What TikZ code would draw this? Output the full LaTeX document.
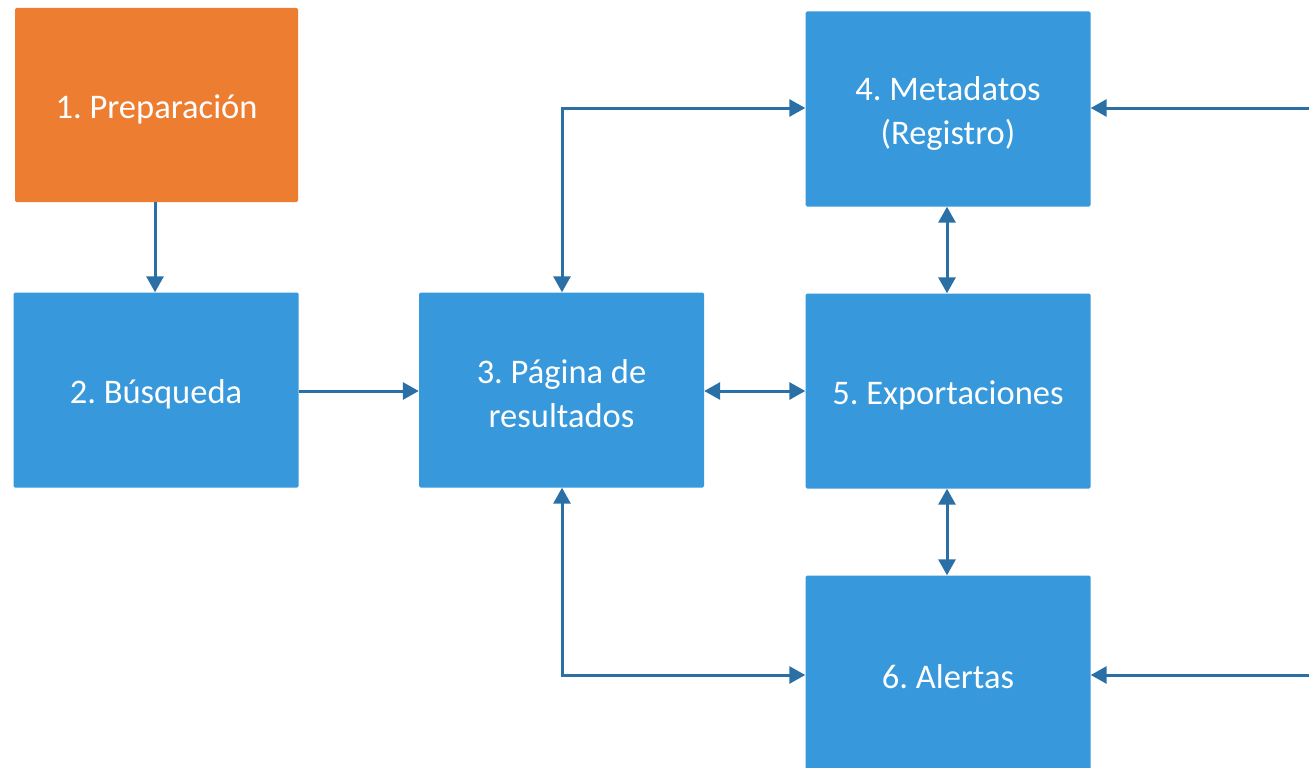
\documentclass[tikz,border=0pt]{standalone}
\usepackage{fontspec}
\setmainfont{Carlito}
\usetikzlibrary{arrows.meta}
\frenchspacing
\definecolor{boxblue}{HTML}{3798DB}
\definecolor{boxorange}{HTML}{ED7D31}
\definecolor{arrblue}{HTML}{2A6FA5}
\newcommand{\dn}[1]{\raisebox{0pt}[\dimexpr\height+8pt\relax][\depth]{#1}}
\tikzset{
  box/.style={draw=none, fill=boxblue, rounded corners=1.5pt, minimum width=285pt, minimum height=195pt,
    inner sep=0pt, align=center, text=white, font=\fontsize{34.5}{44}\selectfont},
  conn/.style={draw=arrblue, line width=3pt, -{Triangle[length=16pt,width=17pt]}},
  dconn/.style={draw=arrblue, line width=3pt, {Triangle[length=16pt,width=17pt]}-{Triangle[length=16pt,width=17pt]}}
}
\begin{document}
\begin{tikzpicture}[x=1pt,y=-1pt]
\useasboundingbox (0,0) rectangle (1309,768);
\node[box, fill=boxorange, minimum width=283pt, minimum height=194pt] (b1) at (156.5,105) {\dn{1. Preparación}};
\node[box] (b2) at (156,390) {\dn{2. Búsqueda}};
\node[box] (b3) at (561.5,390) {\dn{3. Página de}\\resultados};
\node[box] (b4) at (948,109) {\dn{4. Metadatos}\\(Registro)};
\node[box] (b5) at (948,391) {\dn{5. Exportaciones}};
\node[box] (b6) at (948,673) {\dn{6. Alertas}};
\coordinate (r4) at (1309,108);
\coordinate (r6) at (1309,675);
\coordinate (t3) at (562,108);
\coordinate (u3) at (562,675);
\draw[conn] (b1.south -| 155,0) -- (b2.north -| 155,0);
\draw[conn] (b2.east |- 0,391) -- (b3.west |- 0,391);
\draw[dconn] (b3.east |- 0,391) -- (b5.west |- 0,391);
\draw[dconn] (b4.south -| 947,0) -- (b5.north -| 947,0);
\draw[dconn] (b5.south -| 947,0) -- (b6.north -| 947,0);
\draw[dconn] (b3.north -| t3) -- (t3) -- (b4.west |- t3);
\draw[dconn] (b3.south -| u3) -- (u3) -- (b6.west |- u3);
\draw[conn] (r4) -- (b4.east |- r4);
\draw[conn] (r6) -- (b6.east |- r6);
\end{tikzpicture}
\end{document}
